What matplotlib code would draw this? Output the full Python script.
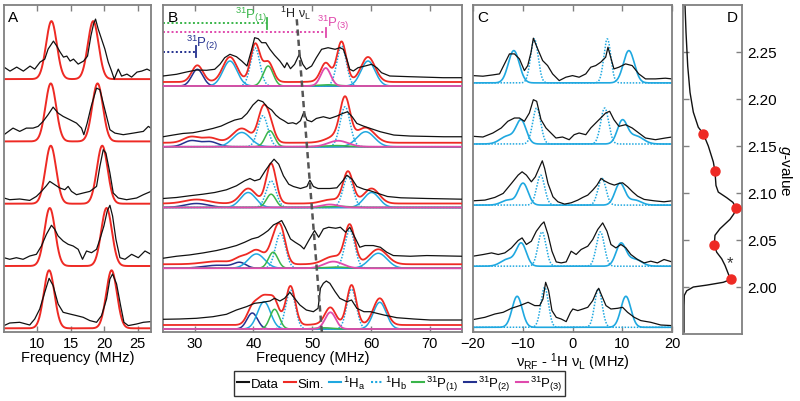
import numpy as np
import matplotlib.pyplot as plt
from matplotlib.lines import Line2D

plt.rcParams['font.family'] = ['Liberation Sans', 'DejaVu Sans']
plt.rcParams['mathtext.fontset'] = 'custom'
plt.rcParams['mathtext.rm'] = 'Liberation Sans'
plt.rcParams['mathtext.it'] = 'Liberation Sans:italic'
plt.rcParams['mathtext.bf'] = 'Liberation Sans:bold'

C_DATA = '#111111'
C_SIM = '#ee2a24'
C_H = '#1fa8e0'
C_P1 = '#3ab54a'
C_P2 = '#24318f'
C_P3 = '#e04aad'
FRAME = '#808080'

# ---------------- panel A : data (MHz, intensity a.u.) ----------------
a_x = [
    [5.0, 5.9, 6.9, 7.9, 8.9, 9.6, 10.4, 11.1, 11.6, 12.4, 12.9, 13.4, 13.9, 14.4, 14.9, 15.4, 16.1, 16.9,
     17.5, 18.0, 18.4, 18.7, 19.1, 19.6, 20.1, 20.6, 21.1, 21.5, 22.1, 22.6, 23.4, 24.1, 24.9, 25.6, 26.4, 27.0],
    [5.0, 6.35, 7.35, 8.35, 9.35, 10.1, 10.85, 11.6, 12.35, 13.1, 13.85, 14.85, 15.85, 16.6, 16.95, 17.45,
     18.05, 18.85, 19.35, 19.85, 20.35, 20.85, 21.6, 22.85, 24.35, 25.85, 26.6, 27.0],
    [5.0, 5.85, 7.35, 8.85, 9.85, 10.6, 11.35, 11.85, 12.6, 13.35, 14.1, 14.6, 15.1, 15.85, 16.85, 17.85,
     18.85, 19.35, 19.85, 20.25, 20.85, 21.35, 22.1, 23.35, 24.85, 25.85, 27.0],
    [5.0, 5.85, 6.85, 7.85, 8.85, 9.85, 10.6, 11.35, 12.1, 12.6, 13.1, 13.85, 14.6, 15.35, 16.1, 16.75, 17.35,
     18.1, 18.85, 19.35, 19.95, 20.45, 20.85, 21.25, 21.75, 22.35, 23.1, 24.1, 25.1, 26.1, 27.0],
    [5.0, 5.85, 7.35, 8.85, 9.6, 10.35, 11.1, 11.75, 12.35, 13.1, 13.85, 14.85, 15.85, 16.85, 17.85, 18.85,
     19.6, 20.35, 20.85, 21.25, 21.85, 22.45, 22.95, 23.6, 24.85, 25.85, 27.0],
]
a_y = [
    [12, 8, 12, 8, 13, 10, 17, 20, 30, 38, 33, 27, 22, 23, 18, 20, 15, 18,
     23, 43, 55, 60, 50, 40, 30, 17, 8, 0, 10, 3, 5, 2, 7, 8, 10, 8],
    [6.7, 13.3, 10, 13.3, 13.3, 15, 20, 26.7, 34.3, 28.3, 25, 21.7, 18.3, 13.3, 6.7, 18.3,
     35, 53.3, 51.7, 38.3, 25, 11.7, 8.3, 6.7, 8.3, 10, 15, 13.3],
    [5.7, 4, 4.7, 3.3, 7.3, 12.3, 18, 22.3, 19, 15.7, 14, 17.3, 12.3, 9, 10.7, 12.3,
     17.3, 37.3, 54, 50.7, 30.7, 10.7, 5.7, 4, 5.7, 9, 12.3],
    [8.3, 6.7, 8.3, 6.7, 10, 11.7, 20, 31.7, 40.7, 36.7, 30, 25, 21.7, 20, 16.7, 6.7, 15,
     13.3, 16.7, 26.7, 40, 55, 60.7, 50, 26.7, 8.3, 6.7, 11.7, 8.3, 15, 11.7],
    [2.7, 5.3, 6, 3.3, 9.3, 19.3, 36, 50, 42.7, 24.3, 16, 14.3, 12.7, 11, 7.7, 6,
     12.7, 29.3, 49.3, 54.3, 44.3, 22.7, 6, 2.7, 4.3, 6, 6.7],
]
a_sim_lo = [12.1, 12.0, 12.0, 11.85, 11.75]
a_sim_hi = [18.35, 19.0, 19.7, 20.35, 21.1]
a_sim_amp = 58.0
a_sim_sig = 0.8

# ---------------- panel B ----------------
b_x = [
    [24.6, 26.9, 28.6, 30.3, 32.0, 33.4, 34.3, 35.1, 36.0, 37.1, 38.0, 38.9, 39.7, 40.2, 40.8, 41.4, 42.1,
     42.8, 43.6, 44.5, 45.3, 45.7, 46.3, 47.0, 47.8, 48.4, 49.0, 49.9, 50.7, 51.6, 52.7, 53.9, 54.7, 55.3,
     55.9, 56.4, 57.0, 57.8, 59.0, 60.1, 61.0, 61.8, 63.2, 66.6, 72.3, 75.5],
    [24.6, 26.3, 28.0, 29.7, 31.4, 33.1, 34.5, 35.7, 36.8, 38.0, 38.9, 39.9, 40.8, 41.6, 42.3, 43.1, 43.8,
     44.5, 45.2, 45.9, 46.7, 47.3, 48.0, 48.6, 49.1, 49.9, 50.7, 51.9, 53.0, 54.2, 55.2, 56.0, 56.8, 57.6,
     58.7, 59.9, 61.6, 63.9, 66.7, 72.4, 75.5],
    [24.6, 26.9, 29.1, 31.4, 33.4, 35.4, 37.1, 38.5, 39.4, 40.2, 41.1, 42.0, 42.8, 43.5, 44.3, 45.1, 46.0,
     46.8, 48.0, 49.1, 49.6, 50.2, 51.0, 51.9, 53.0, 54.2, 55.2, 55.9, 56.8, 57.6, 58.8, 59.9, 61.1, 62.8,
     65.1, 69.6, 75.5],
    [24.6, 26.9, 29.1, 31.4, 33.7, 35.4, 37.1, 38.5, 39.7, 40.8, 41.7, 42.5, 43.4, 44.1, 44.8, 45.4, 46.3,
     47.1, 48.0, 48.6, 49.4, 50.4, 51.1, 51.9, 52.8, 54.0, 54.8, 55.7, 56.4, 57.4, 58.1, 59.0, 60.4, 61.6,
     62.7, 63.8, 66.7, 69.5, 75.5],
    [24.6, 27.4, 30.3, 33.1, 35.4, 37.1, 38.8, 40.2, 41.6, 42.8, 43.6, 44.5, 45.3, 46.2, 47.0, 47.9, 49.0,
     50.2, 51.0, 51.4, 51.9, 52.4, 53.0, 53.9, 54.7, 55.9, 56.7, 57.6, 58.8, 59.9, 61.0, 62.2, 64.4, 67.3,
     70.1, 75.5],
]
b_y = [
    [10, 11.7, 14, 16, 15.7, 16.7, 21.7, 28.3, 31.7, 29.3, 25, 20, 36.7, 48.3, 47.3, 43.3, 43.3,
     36.7, 30.7, 25, 18.3, 23.3, 17.3, 21.7, 31.7, 21.7, 16.7, 20, 28.3, 36.7, 38.3, 36.7, 38.3, 36.7,
     26.7, 16.7, 15, 18.3, 20, 21.7, 18.3, 13.3, 10, 9.3, 8.3, 8.3],
    [10, 11.7, 13.3, 14, 16, 18.3, 20.7, 24, 26.7, 28.3, 33.3, 41.7, 46.7, 45, 40, 36.7, 31.7,
     28.3, 26, 23.3, 24, 22.7, 26, 35, 26.7, 25, 28.3, 30, 28.3, 30.7, 33.3, 35, 30, 23.3,
     20.7, 18.3, 15, 11.7, 10.7, 10, 10],
    [9, 10, 11.7, 13.3, 15, 17.7, 21.7, 26.7, 29, 26.7, 28.3, 36.7, 43.3, 48.3, 43.3, 31.7, 23.3,
     21, 19, 21, 27.3, 21, 19, 19, 19, 19.7, 26.7, 32.3, 28.3, 21, 18.3, 16.7, 14.3, 11,
     9.7, 9, 8.3],
    [10, 12, 13.3, 15.3, 17.7, 20, 22.7, 26, 29.3, 31, 34.3, 37.7, 43.3, 45.3, 47.7, 41, 29.3,
     26, 22.7, 19.3, 27.7, 37.7, 31, 39.3, 41, 40, 41, 36, 41, 29.3, 21, 22.7, 22.7, 21,
     16, 12.7, 12, 12.7, 12],
    [9.7, 10, 10.7, 12.3, 14.7, 19, 22.3, 25.7, 26.7, 28, 30.7, 28, 30.7, 36.7, 30.7, 24, 19,
     17.3, 20.7, 40.7, 45.7, 48, 45.7, 37.3, 30.7, 27.3, 29, 20.7, 17.3, 17.3, 15.7, 14, 11.3, 10,
     9, 9],
]
# simulation components: (centre MHz, amplitude, sigma MHz)
b_p2 = [
    [(30.45, 16.7, 0.95)],
    [(29.4, 6.0, 1.3), (32.6, 5.0, 1.3)],
    [(30.3, 4.0, 2.0)],
    [(34.0, 3.0, 2.5), (37.7, 5.0, 1.0)],
    [(39.8, 16.0, 0.9)],
]
b_ha = [
    [(36.0, 25.0, 1.2), (59.5, 25.0, 1.2)],
    [(38.0, 14.3, 1.5), (59.1, 15.0, 1.5)],
    [(39.1, 15.0, 1.3), (60.1, 15.0, 1.3)],
    [(40.5, 14.3, 1.4), (61.25, 15.0, 1.5)],
    [(41.8, 27.3, 1.1), (61.5, 26.7, 1.1)],
]
b_hb = [
    [(40.3, 38.0, 0.8), (55.0, 40.0, 0.8)],
    [(41.6, 31.0, 0.85), (55.6, 40.0, 0.85)],
    [(43.0, 26.7, 0.85), (56.1, 31.0, 0.85)],
    [(44.6, 35.0, 0.85), (56.4, 38.0, 0.85)],
    [(46.3, 39.0, 0.8), (56.7, 40.0, 0.8)],
]
b_p1 = [
    [(42.5, 20.0, 0.85), (52.5, 1.2, 1.8)],
    [(42.8, 16.0, 0.8), (54.0, 1.2, 2.0)],
    [(43.0, 13.3, 0.8), (54.5, 1.2, 2.0)],
    [(43.35, 16.0, 0.8), (54.0, 1.2, 2.0)],
    [(43.6, 19.7, 0.8), (52.0, 1.2, 1.5)],
]
b_p3 = [
    [(52.3, 18.0, 0.85)],
    [(54.4, 6.0, 1.7)],
    [(53.0, 3.0, 1.5)],
    [(53.6, 6.7, 1.6)],
    [(53.1, 16.7, 0.9)],
]
b_nu_l = [48.3, 49.1, 49.9, 50.8, 51.6]     # 1H Larmor frequency of each trace
b_range_p1 = 42.3
b_range_p3 = 52.35
b_range_p2 = 30.2

# ---------------- panel C ----------------
c_x = [
    [-20, -18, -16, -14.67, -13.67, -12.67, -11.67, -10.67, -9.67, -9, -8.33, -7.87, -7, -6, -5, -4, -2.67,
     -1.33, 0, 1.33, 2.67, 3.67, 4.67, 5.67, 6.67, 7.13, 7.67, 8.33, 9.33, 10.67, 12, 13.33, 14.67, 16.67,
     18.67, 20],
    [-20, -18, -16, -14.33, -13, -11.67, -10.67, -9.67, -8.67, -7.87, -7.2, -6.33, -5.33, -4.33, -3.33, -2,
     -0.67, 0.33, 1.33, 2.67, 3.67, 4.67, 5.67, 6.67, 7.47, 8.33, 9.33, 10.67, 12, 13.33, 14.67, 16.67,
     18.67, 20],
    [-20, -17.6, -15.6, -13.93, -12.27, -10.93, -10.13, -9.27, -8.27, -7.47, -6.6, -6.07, -5.6, -4.93, -3.93,
     -2.93, -1.6, -0.27, 1.07, 2.07, 3.07, 4.07, 4.93, 5.73, 6.4, 7.4, 8.4, 9.4, 10.07, 11.07, 12.07, 13.07,
     14.4, 16.4, 18.4, 20],
    [-20, -17.93, -16.27, -14.93, -13.6, -12.27, -10.93, -10.13, -9.27, -8.27, -7.27, -6.27, -5.73, -4.93,
     -4.13, -3.27, -2.27, -1.27, -0.27, 0.73, 1.73, 3.07, 4.07, 5.07, 6.07, 6.93, 7.73, 8.73, 9.73, 10.73,
     11.73, 13.07, 14.4, 15.73, 17.07, 18.4, 20],
    [-20, -17.6, -15.6, -13.93, -12.27, -10.6, -8.93, -7.6, -6.6, -5.93, -5.4, -4.8, -4.13, -3.27, -2.27,
     -1.27, -0.4, 0.07, 1.07, 2.07, 3.07, 4.07, 4.93, 5.27, 5.87, 6.73, 7.73, 9.07, 10.07, 11.07, 12.4,
     13.73, 15.73, 17.73, 20],
]
c_y = [
    [7.3, 6.7, 8, 9, 19, 29, 29, 24, 12.3, 17.3, 30.7, 44.7, 34, 22.3, 17.3, 9, 2.3,
     5.7, 7.3, 5.7, 9, 15.7, 17.3, 20.7, 25.7, 35.7, 25.7, 14, 15.7, 19, 17.3, 9, 4, 4, 4.7, 4],
    [7.7, 7, 11, 16, 22.7, 26, 26, 22.7, 31, 44.3, 42.7, 24.3, 16, 11, 6, 7,
     4.3, 9.3, 11, 9.3, 16, 21, 26, 31, 32.7, 24.3, 17.7, 19.3, 16, 11, 6, 4.3, 6, 7],
    [4.3, 5, 7.7, 11.7, 21.7, 30, 33.3, 30, 23.3, 28.3, 38.3, 44.3, 36.7, 21.7, 8.3,
     3.3, 1, 2.3, 5, 7.7, 10, 15, 20, 26.7, 24.3, 21.7, 20, 21.7, 22.3, 18.3, 13.3, 9,
     5.7, 4.3, 3.3, 4.3],
    [10, 11.7, 13.3, 11.7, 13.3, 18.3, 25.7, 28.3, 21.7, 25, 35, 41.7, 44.3, 31.7,
     15, 4.3, 3.3, 4.3, 15, 11.7, 16.7, 20, 26.7, 36.7, 43.3, 35, 21.7, 18.3, 21.7, 18.3,
     11.7, 6.7, 3.3, 5, 3.3, 6.7, 4.3],
    [7.7, 10, 13.3, 15, 19, 21.7, 25, 21.7, 21.7, 28.3, 45, 36.7, 16.7, 10, 8.3,
     5.7, 15, 18.3, 16.7, 18.3, 20, 26.7, 36.7, 39, 31.7, 21.7, 18.3, 19, 20, 15, 10,
     6.7, 5, 2.3, 1.7],
]
c_ha = [
    [(-11.8, 32.3, 1.1), (11.33, 32.3, 1.1)],
    [(-10.3, 22.7, 1.0), (-13.0, 8.0, 1.5), (10.0, 22.7, 1.0), (12.7, 8.0, 1.5)],
    [(-9.93, 21.7, 1.0), (-13.0, 5.0, 1.3), (9.53, 21.7, 1.0), (12.5, 5.0, 1.3)],
    [(-10.27, 22.3, 1.0), (-13.0, 7.0, 1.4), (9.73, 22.3, 1.0), (12.5, 7.0, 1.4)],
    [(-11.13, 31.0, 1.0), (10.73, 31.0, 1.0)],
]
c_hb = [
    [(-7.67, 44.0, 0.75), (7.0, 44.0, 0.7)],
    [(-7.2, 36.0, 0.8), (6.47, 36.0, 0.8)],
    [(-6.4, 30.0, 0.8), (5.93, 26.7, 0.8)],
    [(-6.13, 34.3, 0.8), (5.6, 34.3, 0.8)],
    [(-5.6, 40.0, 0.75), (5.2, 38.3, 0.75)],
]

# ---------------- panel D : field sweep ----------------
d_int = [0.034, 0.051, 0.080, 0.119, 0.175, 0.259, 0.344, 0.429, 0.514, 0.542, 0.559, 0.598, 0.741, 0.847,
         0.898, 0.864, 0.797, 0.627, 0.542, 0.531, 0.571, 0.656, 0.712, 0.768, 0.808, 0.683, 0.402, 0.175,
         0.063, 0.022, 0.017, 0.017]
d_g = [2.300, 2.271, 2.235, 2.207, 2.186, 2.170, 2.163, 2.150, 2.133, 2.123, 2.108, 2.101, 2.095, 2.090,
       2.084, 2.078, 2.072, 2.062, 2.055, 2.045, 2.037, 2.030, 2.023, 2.014, 2.008, 2.005, 2.002, 2.000,
       1.996, 1.991, 1.980, 1.952]
d_fields = [2.163, 2.123, 2.084, 2.045, 2.008]
d_star_g = 2.026


def gauss(x, comps):
    y = np.zeros_like(x)
    for c, h, s in comps:
        y += h * np.exp(-0.5 * ((x - c) / s) ** 2)
    return y


def frame(ax):
    for sp in ax.spines.values():
        sp.set_color(FRAME)
        sp.set_linewidth(1.3)
    ax.set_yticks([])
    ax.tick_params(axis='x', direction='in', top=True, bottom=True, length=4, width=1,
                   color=FRAME, labelsize=10.5, pad=3)


fig = plt.figure(figsize=(8, 4.02), dpi=100)
W, H = 800.0, 402.0


def add_ax(x0, y0, x1, y1):
    return fig.add_axes([x0 / W, 1 - y1 / H, (x1 - x0) / W, (y1 - y0) / H])


# ---- A ----
ax = add_ax(4, 6, 151, 333)
frame(ax)
ax.set_xlim(5, 27)
ax.set_ylim(0, 327)
ax.set_xticks([10, 15, 20, 25])
xs = np.linspace(5, 27, 600)
for i in range(5):
    base = 3.7 + 62.3 * (4 - i)
    sim = gauss(xs, [(a_sim_lo[i], a_sim_amp, a_sim_sig), (a_sim_hi[i], a_sim_amp, a_sim_sig)])
    ax.plot(xs, base + sim, color=C_SIM, lw=1.4)
    ax.plot(a_x[i], base + np.array(a_y[i]), color=C_DATA, lw=0.9)
ax.set_xlabel('Frequency (MHz)', fontsize=10.5, labelpad=0)
ax.text(0.025, 0.985, 'A', transform=ax.transAxes, ha='left', va='top', fontsize=11)

# ---- B ----
ax = add_ax(163, 6, 462, 333)
frame(ax)
ax.set_xlim(24.6, 75.5)
ax.set_ylim(0, 327)
ax.set_xticks([30, 40, 50, 60, 70])
xs = np.linspace(24.6, 75.5, 1200)
bases = []
for i in range(5):
    base = 3.0 + 60.75 * (4 - i)
    bases.append(base)
    comps = b_p2[i] + b_ha[i] + b_hb[i] + b_p1[i] + b_p3[i]
    ax.plot(xs, base + gauss(xs, b_p2[i]), color=C_P2, lw=1.1, zorder=2)
    ax.plot(xs, base + gauss(xs, b_ha[i]), color=C_H, lw=1.1, zorder=2)
    ax.plot(xs, base + gauss(xs, b_hb[i]), color=C_H, lw=1.1, ls=(0, (1, 1)), zorder=2)
    ax.plot(xs, base + gauss(xs, b_p1[i]), color=C_P1, lw=1.1, zorder=2)
    ax.plot(xs, base + gauss(xs, b_p3[i]), color=C_P3, lw=1.3, zorder=3)
    ax.plot(xs, base + 4 + gauss(xs, comps), color=C_SIM, lw=1.3, zorder=4)
    ax.plot(b_x[i], base + np.array(b_y[i]), color=C_DATA, lw=0.9, zorder=5)
# 1H Larmor line
fit = np.polyfit(bases, b_nu_l, 1)
yy = np.array([0, 313])
ax.plot(np.polyval(fit, yy), yy, color='#555555', lw=1.8, ls=(0, (2.5, 1.6)), zorder=6)
top_nu = np.polyval(fit, 313)
# hyperfine range markers
ax.plot([24.6, b_range_p1], [309, 309], color=C_P1, lw=1.4, ls=(0, (1, 1.2)))
ax.plot([b_range_p1, b_range_p1], [303, 314], color=C_P1, lw=1.3)
ax.plot([24.6, b_range_p3], [300, 300], color=C_P3, lw=1.4, ls=(0, (1, 1.2)))
ax.plot([b_range_p3, b_range_p3], [295, 304], color=C_P3, lw=1.3)
ax.plot([24.6, b_range_p2], [280, 280], color=C_P2, lw=1.4, ls=(0, (1, 1.2)))
ax.plot([b_range_p2, b_range_p2], [275, 286], color=C_P2, lw=1.3)
ax.text(36.8, 314, r'$^{31}$P$_{(1)}$', color=C_P1, fontsize=9.5, ha='left', va='baseline')
ax.text(50.8, 306, r'$^{31}$P$_{(3)}$', color=C_P3, fontsize=9.5, ha='left', va='baseline')
ax.text(28.5, 286, r'$^{31}$P$_{(2)}$', color=C_P2, fontsize=9.5, ha='left', va='baseline')
ax.text(top_nu - 0.2, 315, '$^{1}$H', color='#222222', fontsize=9, ha='right', va='baseline')
ax.text(top_nu + 0.3, 315, 'ν$_{\\rm L}$', color='#222222', fontsize=9, ha='left', va='baseline')
ax.set_xlabel('Frequency (MHz)', fontsize=10.5, labelpad=0)
ax.text(0.017, 0.985, 'B', transform=ax.transAxes, ha='left', va='top', fontsize=11)

# ---- C ----
ax = add_ax(473, 6, 672, 333)
frame(ax)
ax.set_xlim(-20, 20)
ax.set_ylim(0, 327)
ax.set_xticks([-20, -10, 0, 10, 20])
xs = np.linspace(-20, 20, 900)
for i in range(5):
    base = 4.7 + 61.1 * (4 - i)
    ax.plot(xs, base + gauss(xs, c_hb[i]), color=C_H, lw=1.1, ls=(0, (1, 1)))
    ax.plot(xs, base + gauss(xs, c_ha[i]), color=C_H, lw=1.2)
    ax.plot(c_x[i], base + np.array(c_y[i]), color=C_DATA, lw=0.9)
ax.set_xlabel('ν$_{\\rm RF}$ - $^{1}$H ν$_{\\rm L}$ (MHz)', fontsize=10.5, labelpad=0.5)
ax.text(0.02, 0.985, 'C', transform=ax.transAxes, ha='left', va='top', fontsize=11)

# ---- D ----
ax = add_ax(683, 6, 742, 335)
for sp in ax.spines.values():
    sp.set_color(FRAME)
    sp.set_linewidth(1.3)
ax.set_xlim(0, 1)
ax.set_ylim(1.95, 2.30)
ax.set_xticks([])
ax.set_yticks([2.00, 2.05, 2.10, 2.15, 2.20, 2.25])
ax.set_yticklabels(['2.00', '2.05', '2.10', '2.15', '2.20', '2.25'])
ax.tick_params(axis='y', direction='in', left=True, right=True, labelleft=False, labelright=True,
               length=4, width=1, color=FRAME, labelsize=11, pad=4)
ax.plot(d_int, d_g, color=C_DATA, lw=1.0)
dot_x = np.interp(d_fields, d_g[::-1], d_int[::-1])
ax.plot(dot_x, d_fields, 'o', color=C_SIM, ms=6.5, mec=C_SIM, zorder=5)
star_x = np.interp(d_star_g, d_g[::-1], d_int[::-1])
ax.text(star_x + 0.06, d_star_g, '*', fontsize=12, color='#333333', ha='left', va='center')
ax.yaxis.set_label_position('right')
ax.set_ylabel(r'$g$-value', rotation=270, fontsize=11, labelpad=12)
ax.text(0.92, 0.985, 'D', transform=ax.transAxes, ha='right', va='top', fontsize=11)

# ---- legend ----
handles = [
    Line2D([], [], color=C_DATA, lw=1.5),
    Line2D([], [], color=C_SIM, lw=1.5),
    Line2D([], [], color=C_H, lw=1.5),
    Line2D([], [], color=C_H, lw=1.5, ls=(0, (1, 1))),
    Line2D([], [], color=C_P1, lw=1.5),
    Line2D([], [], color=C_P2, lw=1.5),
    Line2D([], [], color=C_P3, lw=1.5),
]
labels = ['Data', 'Sim.', r'$^{1}$H$_{\rm a}$', r'$^{1}$H$_{\rm b}$',
          r'$^{31}$P$_{(1)}$', r'$^{31}$P$_{(2)}$', r'$^{31}$P$_{(3)}$']
leg = fig.legend(handles, labels, loc='center', bbox_to_anchor=(399.5 / W, 1 - 384.5 / H), ncol=7,
                 fancybox=False, edgecolor='#333333', framealpha=1, handlelength=0.9,
                 handletextpad=0.15, columnspacing=0.4, borderpad=0.22, borderaxespad=0,
                 prop={'family': ['Liberation Sans Narrow', 'Liberation Sans'], 'size': 9.5})
leg.get_frame().set_linewidth(1.0)

fig.savefig('out.png', dpi=100)
